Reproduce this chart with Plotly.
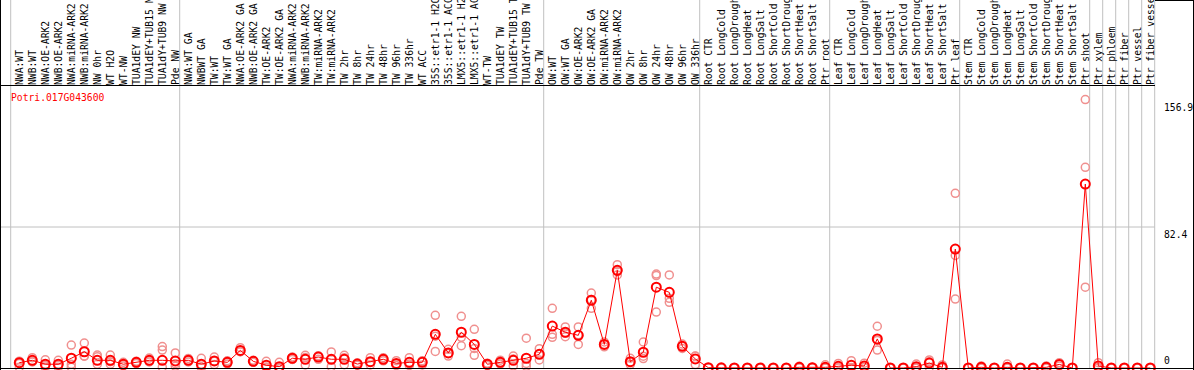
import plotly.graph_objects as go

gene = "Potri.017G043600"

labels = [
    "NWA:WT", "NWB:WT", "NWA:OE-ARK2", "NWB:OE-ARK2", "NWA:miRNA-ARK2", "NWB:miRNA-ARK2",
    "NW 0hr", "WT H2O", "WT-NW", "TUA1dEY NW", "TUA1dEY+TUB15 NW", "TUA1dY+TUB9 NW", "Pde NW",
    "NWA:WT GA", "NWBWT GA", "TW:WT", "TW:WT GA", "NWA:OE-ARK2 GA", "NWB:OE-ARK2 GA",
    "TW:OE-ARK2", "TW:OE-ARK2 GA", "NWA:miRNA-ARK2", "NWB:miRNA-ARK2", "TW:miRNA-ARK2",
    "TW:miRNA-ARK2", "TW 2hr", "TW 8hr", "TW 24hr", "TW 48hr", "TW 96hr", "TW 336hr",
    "WT ACC", "35S::etr1-1 H2O", "35S::etr1-1 ACC", "LMX5::etr1-1 H2O", "LMX5::etr1-1 ACC",
    "WT-TW", "TUA1dEY TW", "TUA1dEY+TUB15 TW", "TUA1dY+TUB9 TW", "Pde TW",
    "OW:WT", "OW:WT GA", "OW:OE-ARK2", "OW:OE-ARK2 GA", "OW:miRNA-ARK2", "OW:miRNA-ARK2",
    "OW 2hr", "OW 8hr", "OW 24hr", "OW 48hr", "OW 96hr", "OW 336hr",
    "Root CTR", "Root LongCold", "Root LongDrought", "Root LongHeat", "Root LongSalt",
    "Root ShortCold", "Root ShortDrought", "Root ShortHeat", "Root ShortSalt", "Ptr root",
    "Leaf CTR", "Leaf LongCold", "Leaf LongDrought", "Leaf LongHeat", "Leaf LongSalt",
    "Leaf ShortCold", "Leaf ShortDrought", "Leaf ShortHeat", "Leaf ShortSalt", "Ptr leaf",
    "Stem CTR", "Stem LongCold", "Stem LongDrought", "Stem LongHeat", "Stem LongSalt",
    "Stem ShortCold", "Stem ShortDrought", "Stem ShortHeat", "Stem ShortSalt", "Ptr shoot",
    "Ptr xylem", "Ptr phloem", "Ptr fiber", "Ptr vessel", "Ptr fiber vessel",
]

means = [
    3.1, 4.5, 2.2, 2.2, 5.7, 9.5, 4.5, 4.5, 2.2, 3.3, 4.5, 4.5, 4.1,
    4.5, 2.2, 4.1, 3.3, 10.3, 3.9, 1.6, 0.8, 5.7, 5.1, 6.4, 5.1, 5.1, 2.3, 3.7, 5.1, 2.7, 3.3,
    3.3, 19.7, 8.8, 20.9, 13.8, 2.2, 3.3, 4.5, 5.7, 8.0,
    24.5, 20.9, 19.1, 39.6, 13.8, 57.1, 3.7, 9.2, 47.2, 44.2, 12.7, 5.3,
    0.2, 0.1, 0.0, 0.0, 0.0, 0.0, 0.0, 0.4, 0.2, 0.4,
    1.0, 1.6, 1.2, 17.0, 0.0, 0.0, 0.8, 2.9, 0.4, 69.5,
    0.0, 0.4, 0.0, 0.4, 0.0, 0.0, 0.4, 2.1, 0.0, 107.5,
    1.2, 0.0, 0.0, 0.0, 0.0,
]

rep1 = [
    4.0, 6.0, 4.8, 4.5, 13.4, 14.6, 7.6, 7.6, 3.3, 4.0, 5.8, 12.5, 8.8,
    5.6, 5.7, 6.4, 4.2, 11.9, 4.5, 3.9, 3.3, 6.4, 7.4, 7.2, 9.4, 7.4, 3.0, 6.0, 6.0, 4.3, 6.0,
    4.3, 30.8, 10.9, 30.2, 22.6, 2.8, 4.6, 7.0, 17.4, 11.3,
    34.9, 24.0, 24.0, 43.8, 12.4, 60.4, 5.7, 15.2, 54.9, 54.4, 14.0, 7.0,
    0.3, 0.2, 0.1, 0.1, 0.1, 0.1, 0.1, 1.0, 0.4, 1.9,
    2.7, 4.3, 2.8, 24.4, 0.1, 0.1, 2.3, 4.7, 1.8, 102.1,
    0.1, 1.2, 0.1, 2.3, 0.1, 0.1, 1.2, 3.1, 0.1, 156.9,
    3.1, 0.1, 0.0, 0.0, 0.0,
]

rep2 = [
    2.6, 4.0, 0.5, 0.5, 2.2, 7.0, 6.6, 2.2, 1.2, 2.6, 3.5, 10.5, 1.0,
    3.5, 0.5, 2.0, 2.4, 9.5, 3.3, 0.5, 0.0, 5.0, 1.8, 5.1, 0.8, 1.9, 1.6, 1.8, 4.2, 1.5, 1.5,
    1.8, 9.7, 7.0, 17.9, 7.4, 1.5, 2.3, 1.2, 2.7, 4.7,
    19.7, 18.3, 13.8, 34.9, 15.2, 54.4, 2.0, 5.5, 32.7, 40.7, 11.4, 2.0,
    0.1, 0.0, 0.0, 0.0, 0.0, 0.0, 0.0, 0.1, 0.1, 0.0,
    0.2, 0.3, 0.5, 10.5, 0.0, 0.0, 0.1, 0.3, 0.0, 65.8,
    0.0, 0.0, 0.0, 0.0, 0.0, 0.0, 0.0, 1.2, 0.0, 117.3,
    0.3, 0.0, 0.0, 0.0, 0.0,
]

rep3 = [
    0.5, 3.5, 1.4, 1.6, 0.5, 6.9, 2.2, 3.7, 2.1, 3.3, 4.2, 0.5, 2.5,
    4.4, 0.4, 3.9, 3.3, 9.5, 3.9, 0.4, 0.0, 5.7, 6.1, 6.9, 5.1, 6.0, 2.3, 3.3, 5.1, 2.3, 2.4,
    3.8, 18.6, 8.5, 13.0, 11.4, 2.3, 3.0, 5.3, 1.0, 8.0,
    17.9, 20.4, 19.5, 40.1, 13.8, 56.5, 3.4, 6.9, 54.0, 38.4, 12.7, 6.9,
    0.2, 0.1, 0.0, 0.0, 0.0, 0.0, 0.0, 0.1, 0.1, 0.0,
    0.1, 0.2, 0.3, 16.1, 0.0, 0.0, 0.0, 3.7, 0.0, 40.3,
    0.0, 0.0, 0.0, 0.0, 0.0, 0.0, 0.0, 2.0, 0.0, 47.2,
    0.2, 0.0, 0.0, 0.0, 0.0,
]

group_bounds = [0, 13, 41, 53, 63, 73, 83, 84, 85, 86, 87, 88]
y_ticks = [156.9, 82.4, 0]

W, H = 1194, 370
n = len(labels)
xs = list(range(n))


def xp(px):
    return px / W


def yp(py):
    return 1 - py / H


x_lo = -19.3 / 13
x_hi = (W - 19.3) / 13
y_top = 164.8
y_bot = -2 / (282 / y_top)

fig = go.Figure()

rx, ry = [], []
for reps in (rep1, rep2, rep3):
    for i, v in enumerate(reps):
        rx.append(i)
        ry.append(v)

fig.add_trace(go.Scatter(
    x=rx, y=ry, mode="markers",
    marker=dict(symbol="circle-open", size=8, color="#f0908f", line=dict(width=1.5, color="#f0908f")),
    hoverinfo="skip", showlegend=False,
))
fig.add_trace(go.Scatter(
    x=xs, y=means, mode="lines+markers",
    line=dict(color="#ff0000", width=1),
    marker=dict(symbol="circle-open", size=9, color="#ff0000", line=dict(width=2, color="#ff0000")),
    showlegend=False,
))

shapes = []
grey = "#c0c0c0"
for b in group_bounds:
    xb = b - 0.5 - 2.1 / 13
    shapes.append(dict(type="line", xref="x", yref="paper", x0=xb, x1=xb, y0=yp(368.5), y1=1,
                       line=dict(color=grey, width=1), layer="below"))
shapes.append(dict(type="line", xref="x", yref="y", x0=x_lo, x1=88 - 0.5 - 2.1 / 13, y0=82.4, y1=82.4,
                   line=dict(color=grey, width=1), layer="below"))
blk = "#000000"
shapes += [
    dict(type="line", xref="paper", yref="paper", x0=0, x1=xp(1155), y0=yp(85.5), y1=yp(85.5), line=dict(color=blk, width=1)),
    dict(type="line", xref="paper", yref="paper", x0=0, x1=1, y0=yp(368.5), y1=yp(368.5), line=dict(color=blk, width=1)),
    dict(type="line", xref="paper", yref="paper", x0=xp(0.5), x1=xp(0.5), y0=0, y1=1, line=dict(color=blk, width=1)),
    dict(type="line", xref="paper", yref="paper", x0=xp(1193.5), x1=xp(1193.5), y0=0, y1=1, line=dict(color=blk, width=1)),
    dict(type="line", xref="paper", yref="paper", x0=xp(1155), x1=1, y0=yp(0.5), y1=yp(0.5), line=dict(color=blk, width=1)),
]

mono = "DejaVu Sans Mono"
annotations = [
    dict(text=gene, xref="paper", yref="paper", x=xp(9), y=yp(97), xanchor="left", yanchor="middle",
         showarrow=False, font=dict(family=mono, size=9.7, color="#ff0000")),
]
for t in y_ticks:
    annotations.append(dict(text=f"{t:g}" if t == 0 else f"{t}", xref="paper", yref="y", x=xp(1162), y=t,
                            xanchor="left", yanchor="bottom" if t == 0 else "top",
                            showarrow=False, font=dict(family=mono, size=9.7, color="#000000")))

fig.update_layout(
    width=W, height=H, margin=dict(l=0, r=0, t=0, b=0),
    paper_bgcolor="white", plot_bgcolor="white",
    shapes=shapes, annotations=annotations,
    xaxis=dict(domain=[0, 1], range=[x_lo, x_hi], side="top", anchor="y",
               tickmode="array", tickvals=xs, ticktext=labels, tickangle=-90,
               ticks="", ticklen=0, showgrid=False, zeroline=False, showline=False,
               automargin=False, ticklabelshift=1,
               tickfont=dict(family=mono, size=9.7, color="#000000")),
    yaxis=dict(domain=[0, yp(86)], range=[y_bot, y_top], showticklabels=False,
               showgrid=False, zeroline=False, showline=False, automargin=False),
    hovermode="closest",
)

fig.write_html(
    "out.html",
    config={"displayModeBar": False},
    post_script="document.body.style.margin='0';document.body.style.overflow='hidden';",
)
